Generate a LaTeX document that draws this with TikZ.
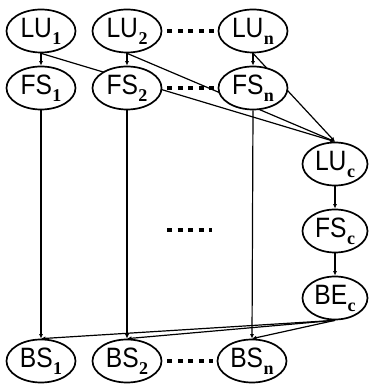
\documentclass[tikz,border=0pt]{standalone}
\usepackage{fontspec}
\setmainfont{Liberation Sans}
\newfontfamily\subfont{Liberation Serif}
\usetikzlibrary{arrows.meta,backgrounds,shapes.geometric}
\newcommand{\lbl}[2]{\scalebox{0.88}[1]{#1}\hspace{0.5pt}\raisebox{-7pt}{\fontsize{18}{18}\subfont\bfseries #2}}
\tikzset{
  st/.style={ellipse, draw, line width=1.7pt, fill=white, minimum width=69pt, minimum height=43pt, inner sep=0pt, font=\fontsize{28}{28}\selectfont},
  stc/.style={st, minimum width=65pt},
  arr/.style={line width=1.2pt, -{Latex[length=4.5pt,width=4pt]}},
  dotline/.style={line width=4pt, dash pattern=on 5pt off 5.5pt, shorten <=5pt, shorten >=4pt}
}
\begin{document}
\begin{tikzpicture}[x=1pt,y=1pt]
\useasboundingbox (0,0) rectangle (368,390);
\node[st] (LU1) at (41,359) {\lbl{LU}{1}};
\node[st] (LU2) at (127,359) {\lbl{LU}{2}};
\node[st] (LUn) at (253,359) {\lbl{LU}{n}};
\node[st] (FS1) at (41,302) {\lbl{FS}{1}};
\node[st] (FS2) at (127,302) {\lbl{FS}{2}};
\node[st] (FSn) at (253,302) {\lbl{FS}{n}};
\node[stc] (LUc) at (335,226) {\lbl{LU}{c}};
\node[stc] (FSc) at (335,159) {\lbl{FS}{c}};
\node[stc] (BEc) at (335,92) {\lbl{BE}{c}};
\node[st] (BS1) at (41,29) {\lbl{BS}{1}};
\node[st] (BS2) at (127,29) {\lbl{BS}{2}};
\node[st] (BSn) at (252,29) {\lbl{BS}{n}};
\coordinate (m1) at (167,160);
\coordinate (m2) at (212,160);
\begin{pgfonlayer}{background}
\draw[arr] (LU1.south) -- (FS1.north);
\draw[arr] (LU2.south) -- (FS2.north);
\draw[arr] (LUn.south) -- (FSn.north);
\draw[arr] (LU1.south) -- (LUc.north);
\draw[arr] (LU2.south) -- (LUc.north);
\draw[arr] (LUn.south) -- (LUc.north);
\draw[arr] (LUc.south) -- (FSc.north);
\draw[arr] (FSc.south) -- (BEc.north);
\draw[arr] (FS1.south) -- (BS1.north);
\draw[arr] (FS2.south) -- (BS2.north);
\draw[arr] (FSn.south) -- (BSn.north);
\draw[arr] (BEc.south) -- (BS1.north);
\draw[arr] (BEc.south) -- (BS2.north);
\draw[arr] (BEc.south) -- (BSn.north);
\draw[dotline] (LU2) -- (LUn);
\draw[dotline] (FS2) -- (FSn);
\draw[dotline] (BS2) -- (BSn);
\draw[dotline, shorten <=0pt, shorten >=0pt] (m1) -- (m2);
\end{pgfonlayer}
\end{tikzpicture}
\end{document}
